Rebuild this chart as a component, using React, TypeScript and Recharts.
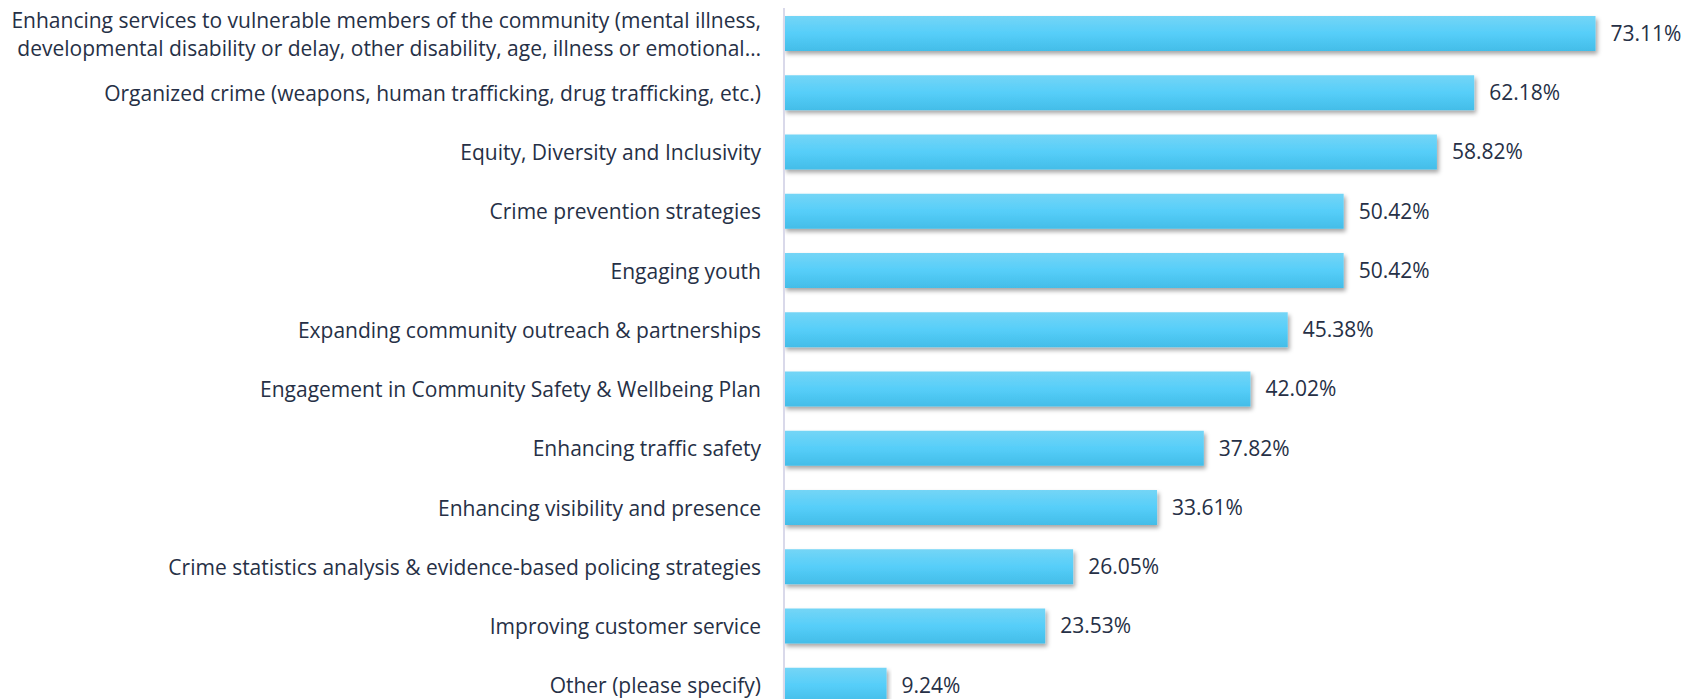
import { Bar, BarChart, LabelList, XAxis, YAxis } from 'recharts';

const categories = [
  'Enhancing services to vulnerable members of the community (mental illness,\ndevelopmental disability or delay, other disability, age, illness or emotional…',
  'Organized crime (weapons, human trafficking, drug trafficking, etc.)',
  'Equity, Diversity and Inclusivity',
  'Crime prevention strategies',
  'Engaging youth',
  'Expanding community outreach & partnerships',
  'Engagement in Community Safety & Wellbeing Plan',
  'Enhancing traffic safety',
  'Enhancing visibility and presence',
  'Crime statistics analysis & evidence-based policing strategies',
  'Improving customer service',
  'Other (please specify)',
];

const percentages = [73.11, 62.18, 58.82, 50.42, 50.42, 45.38, 42.02, 37.82, 33.61, 26.05, 23.53, 9.24];

const data = categories.map((name, i) => ({ name, value: percentages[i] }));

const FONT = '"Open Sans", Lato, sans-serif';
const TEXT = '#263046';

function CategoryTick(props: any) {
  const { x, y, payload } = props;
  const lines: string[] = String(payload.value).split('\n');
  const gap = 28;
  const start = -((lines.length - 1) * gap) / 2;
  return (
    <g>
      {lines.map((line, i) => (
        <text
          key={i}
          x={x}
          y={y + start + i * gap}
          textAnchor="end"
          dominantBaseline="central"
          fill={TEXT}
          fontSize={21}
          fontFamily={FONT}
        >
          {line}
        </text>
      ))}
    </g>
  );
}

export default function App() {
  return (
    <div style={{ margin: '-8px 0 0 -8px', background: '#fff' }}>
      <BarChart
        width={1696}
        height={716}
        data={data}
        layout="vertical"
        margin={{ top: 4, right: 24, left: 1, bottom: 1 }}
        barSize={35}
      >
        <defs>
          <linearGradient id="barFill" x1="0" y1="0" x2="0" y2="1">
            <stop offset="0%" stopColor="#74d5f6" />
            <stop offset="50%" stopColor="#56cef9" />
            <stop offset="100%" stopColor="#43bde8" />
          </linearGradient>
          <filter id="barShadow" x="-5%" y="-20%" width="110%" height="160%">
            <feDropShadow dx="2" dy="3" stdDeviation="2" floodColor="#000" floodOpacity="0.35" />
          </filter>
        </defs>
        <XAxis type="number" domain={[0, 80]} hide />
        <YAxis
          type="category"
          dataKey="name"
          width={783}
          tick={<CategoryTick />}
          tickLine={false}
          tickSize={0}
          tickMargin={23}
          axisLine={{ stroke: '#d9d9ea', strokeWidth: 2 }}
          interval={0}
        />
        <Bar dataKey="value" fill="url(#barFill)" filter="url(#barShadow)" isAnimationActive={false}>
          <LabelList
            dataKey="value"
            position="right"
            offset={15}
            formatter={(v: any) => `${Number(v).toFixed(2)}%`}
            style={{ fill: TEXT, fontSize: 21, fontFamily: FONT }}
          />
        </Bar>
      </BarChart>
    </div>
  );
}
